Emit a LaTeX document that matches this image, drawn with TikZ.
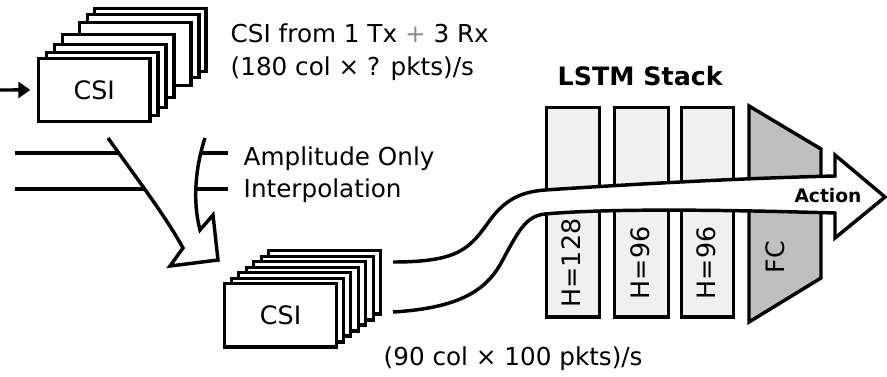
\documentclass[tikz,border=0pt]{standalone}
\usepackage{fontspec}
\setmainfont{DejaVu Sans}[BoldFont={DejaVu Sans Bold}]
\usetikzlibrary{arrows.meta}
\begin{document}
\begin{tikzpicture}[x=0.75pt,y=-0.75pt,line width=2.6pt,line join=miter,
  card/.style={draw=black,fill=white,line width=2.4pt,anchor=north west,inner sep=0pt,
    minimum width=83.5pt,minimum height=47pt,font=\fontsize{19pt}{22pt}\selectfont},
  cardB/.style={card,minimum width=84pt,minimum height=47.5pt},
  lstm/.style={draw=black,fill=black!6,line width=2.6pt,anchor=north west,inner sep=0pt,
    minimum height=157pt},
  lbl/.style={font=\fontsize{18.5pt}{22pt}\selectfont,anchor=base west,inner sep=0pt},
  rlbl/.style={font=\fontsize{19pt}{22pt}\selectfont,rotate=90,inner sep=0pt},
  boldlbl/.style={font=\fontsize{19pt}{22pt}\selectfont\bfseries,inner sep=0pt}]
\useasboundingbox (0,0) rectangle (887,376);

% top CSI stack
\node[card] (a7) at (93,7) {};
\node[card] (a6) at (86,13) {};
\node[card] (a5) at (78,21) {};
\node[card] (a4) at (61,33) {};
\node[card] (a3) at (53,43) {};
\node[card] (a2) at (45,51) {};
\node[card] (a1) at (37,57) {CSI};

% input arrow
\coordinate (in) at (0,90);
\draw[-{Triangle[length=9pt,width=12pt]},shorten >=5pt] (in) -- (a1.west);

% texts
\node[lbl] (t1) at (229,42) {CSI from 1 Tx {\color{black!45}+} 3 Rx};
\node[lbl] (t2) at (229,75) {(180 col × ? pkts)/s};

% lines through curved arrow
\coordinate (l1s) at (15,153);
\coordinate (l1e) at (160,153);
\coordinate (l2s) at (15,189);
\coordinate (l2e) at (175,189);
\draw (l1s) -- (l1e);
\draw (l2s) -- (l2e);
\coordinate (r1s) at (185,153);
\coordinate (r1e) at (228,153);
\coordinate (r2s) at (185,189);
\coordinate (r2e) at (228,189);
\draw (r1s) -- (r1e);
\draw (r2s) -- (r2e);
\node[lbl] (amp) at (242,165) {Amplitude Only};
\node[lbl] (itp) at (242,197) {Interpolation};

% curved arrow
\path[fill=white] (108,138) .. controls (132,172) and (165,215) .. (183,248) -- (170,266) -- (218,260) -- (213,215) -- (200,230) .. controls (192,200) and (196,165) .. (205,138) -- cycle;
\draw (108,138) .. controls (132,172) and (165,215) .. (183,248) -- (170,266) -- (218,260) -- (213,215) -- (200,230) .. controls (192,200) and (196,165) .. (205,138);

% bottom CSI stack
\node[cardB] (b7) at (267,249) {};
\node[cardB] (b6) at (260,255) {};
\node[cardB] (b5) at (252,260) {};
\node[cardB] (b4) at (245,266) {};
\node[cardB] (b3) at (237,271) {};
\node[cardB] (b2) at (230,277) {};
\node[cardB] (b1) at (223,282) {CSI};

\node[lbl] (t3) at (382,365) {(90 col × 100 pkts)/s};

% LSTM stack
\node[boldlbl,anchor=base west] (ls) at (556,85) {LSTM Stack};
\node[lstm,minimum width=39.75pt] (h1) at (545,106) {};
\node[lstm,minimum width=40.5pt] (h2) at (613,106) {};
\node[lstm,minimum width=39pt] (h3) at (680,106) {};
\draw[fill=black!25] (749,106) -- (821,149) -- (821,278) -- (749,322) -- cycle;
\node[rlbl] (h1l) at (571,263) {H=128};
\node[rlbl] (h2l) at (640,263) {H=96};
\node[rlbl] (h3l) at (706,263) {H=96};
\node[rlbl] (fcl) at (775,257) {FC};

% big arrow
\path[fill=white] (393,262) .. controls (460,262) and (470,248) .. (490,220) .. controls (505,200) and (520,192) .. (545,190) .. controls (650,183) and (750,178) .. (835,176) -- (835,155) -- (885,197) -- (835,238) -- (835,213) .. controls (700,209) and (600,209) .. (545,214) .. controls (525,216) and (518,232) .. (500,265) .. controls (485,290) and (460,308) .. (393,312) -- cycle;
\draw (393,262) .. controls (460,262) and (470,248) .. (490,220) .. controls (505,200) and (520,192) .. (545,190) .. controls (650,183) and (750,178) .. (835,176) -- (835,155) -- (885,197) -- (835,238) -- (835,213) .. controls (700,209) and (600,209) .. (545,214) .. controls (525,216) and (518,232) .. (500,265) .. controls (485,290) and (460,308) .. (393,312);
\node[boldlbl,font=\fontsize{14pt}{16pt}\selectfont\bfseries] (act) at (828,196) {Action};
\end{tikzpicture}
\end{document}
